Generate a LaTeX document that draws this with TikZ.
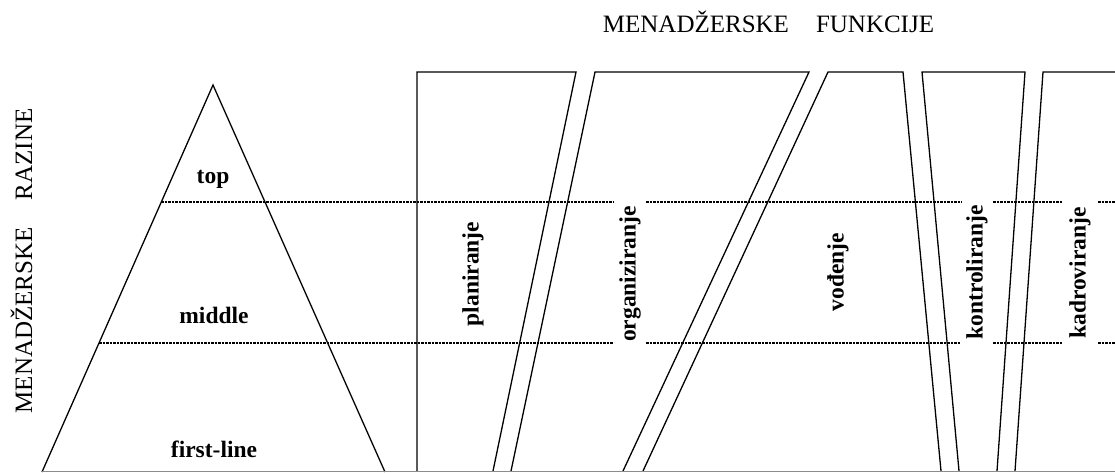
\documentclass[tikz,border=0pt]{standalone}
\usepackage{fontspec}
\setmainfont{Liberation Serif}
\begin{document}
\begin{tikzpicture}[x=1pt,y=-1pt,
  outline/.style={line width=1.3pt, line join=miter},
  baseln/.style={line width=0.8pt, draw=black!45},
  level/.style={line width=1.1pt, dash pattern=on 2.5pt off 1pt},
  lab/.style={font=\fontsize{23.5}{26}\selectfont\bfseries, inner sep=0pt},
  vlab/.style={lab, rotate=90},
  head/.style={font=\fontsize{25}{28}\selectfont, inner sep=0pt}]
\useasboundingbox[fill=white] (0,0) rectangle (1115,473);

% titles
\node[head, anchor=base] (ftitle) at (768.5,33) {MENADŽERSKE\hspace{27pt}FUNKCIJE};
\node[head, anchor=base, rotate=90] (rtitle) at (32,261) {MENADŽERSKE\hspace{27pt}RAZINE};

% pyramid
\coordinate (apex) at (213,85);
\coordinate (bl) at (42,472);
\coordinate (br) at (385,472);
\draw[outline] (bl) -- (apex) -- (br);

% columns
\draw[outline] (417,471) -- (417,72) -- (576,72) -- (493,471);
\draw[outline] (511,471) -- (595,72) -- (809,72) -- (623,471);
\draw[outline] (643,471) -- (828,72) -- (903,72) -- (941,471);
\draw[outline] (959,471) -- (922,72) -- (1025,72) -- (997,471);
\draw[outline] (1015,471) -- (1043,72) -- (1116,72);
\draw[baseln] (42,471.5) -- (1115,471.5);

% level separators
\coordinate (t0) at (161,202);
\coordinate (m0) at (99,343);
\draw[level] (t0) -- (613,202) (646,202) -- (962,202) (993,202) -- (1062,202) (1098,202) -- (1115,202);
\draw[level] (m0) -- (613,343) (646,343) -- (961,343) (993,343) -- (1062,343) (1098,343) -- (1115,343);

% level labels
\node[lab, anchor=base] (top) at (213,183) {top};
\node[lab, anchor=base] (middle) at (214,323) {middle};
\node[lab, anchor=base] (first) at (214,457) {first-line};

% function labels
\node[vlab] (plan) at (473,274) {planiranje};
\node[vlab] (org) at (630,274) {organiziranje};
\node[vlab] (vod) at (838,272) {vođenje};
\node[vlab] (kon) at (977,272.5) {kontroliranje};
\node[vlab] (kad) at (1080,273) {kadroviranje};
\end{tikzpicture}
\end{document}
